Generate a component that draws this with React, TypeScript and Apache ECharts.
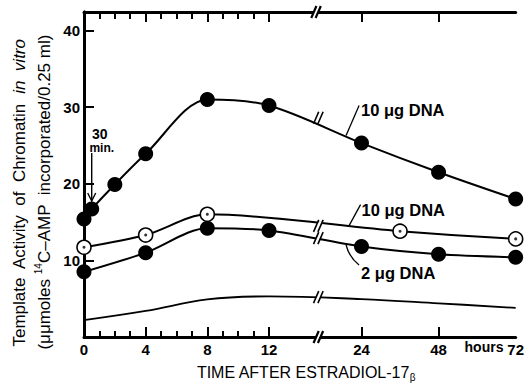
import React, { useEffect, useRef } from "react";
import * as echarts from "echarts";

// ---- data (hours after estradiol, template activity) ----
const HOURS_A = [0, 0.5, 2, 4, 8, 12, 24, 48, 72];
const DNA10_FILLED = [15.4, 16.7, 19.9, 23.9, 31.0, 30.2, 25.3, 21.5, 18.0];
const HOURS_B = [0, 4, 8, 36, 72];
const DNA10_OPEN = [11.7, 13.3, 16.0, 13.8, 12.8];
const HOURS_C = [0, 4, 8, 12, 24, 48, 72];
const DNA2_FILLED = [8.5, 11.0, 14.2, 13.9, 11.8, 10.8, 10.4];
const HOURS_D = [0, 4, 8, 12, 24, 48, 72];
const BASELINE = [2.2, 3.4, 4.9, 5.3, 4.95, 4.4, 3.8];

const TICK_HOURS = [0, 4, 8, 12, 24, 48, 72];
const MAJOR_TICK_HOURS = [4, 8, 12, 24, 48];
const MINOR_TICK_HOURS = [1, 2, 3, 5, 6, 7, 9, 10, 11];
const Y_TICKS = [10, 20, 30, 40];
const Y_MAX = 42.4;
const X_MAX_POS = 28;

// break marks (axis units along the broken time axis)
const BREAK_POS = 15.2;
const BREAK_LINE_VALUES = [28.6, 14.5, 12.9, 5.2];

// broken time axis: linear 0-12 h, then 24-72 h compressed
function hourToPos(h: number) {
  return h <= 12 ? h : 18 + ((h - 24) * 5) / 24;
}

const FF = '"Liberation Sans", Arial, Helvetica, sans-serif';

const pairs = (hs: number[], vs: number[]) => hs.map((h, i) => [hourToPos(h), vs[i]]);

export default function App() {
  const ref = useRef<HTMLDivElement>(null);

  useEffect(() => {
    const chart = echarts.init(ref.current!, null, { renderer: "svg" });

    const baseX = {
      type: "value",
      min: 0,
      max: X_MAX_POS,
      splitLine: { show: false },
      axisLabel: { show: false },
    };

    const breakData = [
      ...BREAK_LINE_VALUES.map((v) => [BREAK_POS, v, 1.6]),
      [BREAK_POS, 0, 2.2],
      [BREAK_POS - 0.15, Y_MAX, 2.2],
    ];

    const option: any = {
      animation: false,
      backgroundColor: "#fff",
      grid: { left: 84, right: 7, top: 12, bottom: 48, containLabel: false },
      xAxis: [
        {
          ...baseX,
          position: "bottom",
          axisLine: { show: true, lineStyle: { color: "#000", width: 3 } },
          axisTick: {
            show: true,
            inside: true,
            length: 10,
            lineStyle: { color: "#000", width: 2 },
            customValues: MAJOR_TICK_HOURS.map(hourToPos),
          },
          axisLabel: {
            show: true,
            margin: 5,
            color: "#000",
            fontFamily: FF,
            fontWeight: "bold",
            fontSize: 15,
            customValues: TICK_HOURS.map(hourToPos),
            formatter: (v: number) => {
              const h = TICK_HOURS.find((t) => Math.abs(hourToPos(t) - v) < 1e-6);
              return h === undefined ? "" : String(h);
            },
          },
        },
        {
          ...baseX,
          position: "bottom",
          axisLine: { show: false },
          axisTick: {
            show: true,
            inside: true,
            length: 6,
            lineStyle: { color: "#000", width: 2 },
            customValues: MINOR_TICK_HOURS.map(hourToPos),
          },
        },
        {
          ...baseX,
          position: "top",
          axisLine: { show: true, lineStyle: { color: "#000", width: 3 } },
          axisTick: {
            show: true,
            inside: true,
            length: 10,
            lineStyle: { color: "#000", width: 2 },
            customValues: MAJOR_TICK_HOURS.map(hourToPos),
          },
        },
        {
          ...baseX,
          position: "top",
          axisLine: { show: false },
          axisTick: {
            show: true,
            inside: true,
            length: 7,
            lineStyle: { color: "#000", width: 2 },
            customValues: MINOR_TICK_HOURS.map(hourToPos),
          },
        },
      ],
      yAxis: [
        {
          type: "value",
          min: 0,
          max: Y_MAX,
          position: "left",
          splitLine: { show: false },
          axisLine: { show: true, lineStyle: { color: "#000", width: 3 } },
          axisTick: {
            show: true,
            inside: true,
            length: 10,
            lineStyle: { color: "#000", width: 2 },
            customValues: Y_TICKS,
          },
          axisLabel: {
            show: true,
            margin: 4,
            color: "#000",
            fontFamily: FF,
            fontWeight: "bold",
            fontSize: 15,
            customValues: Y_TICKS,
          },
        },
        {
          type: "value",
          min: 0,
          max: Y_MAX,
          position: "right",
          splitLine: { show: false },
          axisLine: { show: true, lineStyle: { color: "#000", width: 3 } },
          axisTick: { show: false },
          axisLabel: { show: false },
        },
      ],
      series: [
        {
          type: "line",
          data: pairs(HOURS_A, DNA10_FILLED),
          smooth: 0.3,
          symbol: "circle",
          symbolSize: 15,
          itemStyle: { color: "#000" },
          lineStyle: { color: "#000", width: 2 },
          z: 3,
        },
        {
          type: "line",
          data: pairs(HOURS_B, DNA10_OPEN),
          smooth: 0.3,
          symbol: "circle",
          symbolSize: 14,
          itemStyle: { color: "#fff", borderColor: "#000", borderWidth: 1.6 },
          lineStyle: { color: "#000", width: 2 },
          z: 4,
        },
        {
          type: "scatter",
          data: pairs(HOURS_B, DNA10_OPEN),
          symbol: "circle",
          symbolSize: 3,
          itemStyle: { color: "#000" },
          z: 6,
        },
        {
          type: "line",
          data: pairs(HOURS_C, DNA2_FILLED),
          smooth: 0.3,
          symbol: "circle",
          symbolSize: 15,
          itemStyle: { color: "#000" },
          lineStyle: { color: "#000", width: 2 },
          z: 3,
        },
        {
          type: "line",
          data: pairs(HOURS_D, BASELINE),
          smooth: 0.4,
          symbol: "none",
          lineStyle: { color: "#000", width: 1.8 },
          z: 2,
        },
        {
          type: "custom",
          data: breakData,
          clip: false,
          z: 10,
          silent: true,
          renderItem: (_p: any, api: any) => {
            const [x, y] = api.coord([api.value(0), api.value(1)]);
            const w = api.value(2);
            const hh = 6;
            const sl = 2.6;
            const d = 2.2;
            return {
              type: "group",
              children: [
                {
                  type: "polygon",
                  shape: {
                    points: [
                      [x - d - sl, y + hh - 2],
                      [x - d + sl, y - hh + 2],
                      [x + d + sl, y - hh + 2],
                      [x + d - sl, y + hh - 2],
                    ],
                  },
                  style: { fill: "#fff" },
                },
                {
                  type: "line",
                  shape: { x1: x - d - sl, y1: y + hh, x2: x - d + sl, y2: y - hh },
                  style: { stroke: "#000", lineWidth: w },
                },
                {
                  type: "line",
                  shape: { x1: x + d - sl, y1: y + hh, x2: x + d + sl, y2: y - hh },
                  style: { stroke: "#000", lineWidth: w },
                },
              ],
            };
          },
        },
      ],
    };

    chart.setOption(option);

    const px = (pos: number, v: number) =>
      chart.convertToPixel({ xAxisIndex: 0, yAxisIndex: 0 }, [pos, v]) as number[];

    const a = px(17.0, 26.3);
    const b = px(17.16, 14.4);
    const c = px(17.0, 12.0);
    const m = px(hourToPos(0.5), DNA10_FILLED[1]);

    const labelStyle = {
      fill: "#000",
      font: `bold 16.5px ${FF}`,
      align: "left",
      verticalAlign: "middle",
    };

    const graphic: any[] = [
      // leader A
      { type: "line", shape: { x1: a[0], y1: a[1], x2: a[0] + 13, y2: a[1] - 30 }, style: { stroke: "#000", lineWidth: 1.3 } },
      { type: "text", x: a[0] + 15, y: a[1] - 25, style: { ...labelStyle, text: "10 μg DNA" } },
      // leader B
      { type: "line", shape: { x1: b[0], y1: b[1], x2: b[0] + 12, y2: b[1] - 22 }, style: { stroke: "#000", lineWidth: 1.3 } },
      { type: "text", x: b[0] + 13, y: b[1] - 17, style: { ...labelStyle, text: "10 μg DNA" } },
      // leader C
      {
        type: "bezierCurve",
        shape: { x1: c[0], y1: c[1], cpx1: c[0] + 3, cpy1: c[1] + 12, x2: c[0] + 13, y2: c[1] + 20 },
        style: { stroke: "#000", lineWidth: 1.3, fill: null },
      },
      { type: "text", x: c[0] + 15, y: c[1] + 28, style: { ...labelStyle, text: "2 μg DNA" } },
      // 30 min arrow
      { type: "text", x: m[0] + 8, y: m[1] - 75, style: { fill: "#000", font: `bold 14px ${FF}`, text: "30", align: "center", verticalAlign: "middle" } },
      { type: "text", x: m[0] + 10, y: m[1] - 61, style: { fill: "#000", font: `bold 12px ${FF}`, text: "min.", align: "center", verticalAlign: "middle" } },
      { type: "line", shape: { x1: m[0], y1: m[1] - 56, x2: m[0], y2: m[1] - 8 }, style: { stroke: "#000", lineWidth: 1.4 } },
      {
        type: "polyline",
        shape: { points: [[m[0] - 4, m[1] - 16], [m[0], m[1] - 8], [m[0] + 4, m[1] - 16]] },
        style: { stroke: "#000", lineWidth: 1.4, fill: null },
      },
      // "hours" unit
      { type: "text", x: 484, y: 347, style: { fill: "#000", font: `bold 14px ${FF}`, text: "hours", align: "center", verticalAlign: "middle" } },
      // x title
      {
        type: "text",
        x: 306,
        y: 372,
        style: {
          text: "{m|TIME AFTER ESTRADIOL-17}{s|β}",
          align: "center",
          verticalAlign: "middle",
          fill: "#000",
          rich: {
            m: { fontFamily: FF, fontSize: 16, fill: "#000", lineHeight: 20, verticalAlign: "middle" },
            s: { fontFamily: FF, fontSize: 10, fill: "#000", lineHeight: 20, verticalAlign: "bottom", padding: [8, 0, 0, 0] },
          },
        },
      },
      // y title line 1
      {
        type: "text",
        x: 19,
        y: 193,
        rotation: Math.PI / 2,
        style: {
          text: "{n|Template  Activity  of  Chromatin  }{i|in  vitro}",
          align: "center",
          verticalAlign: "middle",
          fill: "#000",
          rich: {
            n: { fontFamily: FF, fontSize: 17, fill: "#000" },
            i: { fontFamily: FF, fontSize: 17, fontStyle: "italic", fill: "#000" },
          },
        },
      },
      // y title line 2
      {
        type: "text",
        x: 43,
        y: 192,
        rotation: Math.PI / 2,
        style: {
          text: "{n|(μμmoles }{s|14}{n|C–AMP  incorporated/0.25 ml)}",
          align: "center",
          verticalAlign: "middle",
          fill: "#000",
          rich: {
            n: { fontFamily: FF, fontSize: 17, fill: "#000", lineHeight: 19, verticalAlign: "bottom" },
            s: { fontFamily: FF, fontSize: 10, fill: "#000", lineHeight: 19, verticalAlign: "top" },
          },
        },
      },
    ];

    chart.setOption({ graphic });

    return () => chart.dispose();
  }, []);

  return (
    <div
      ref={ref}
      style={{ position: "absolute", left: 0, top: 0, width: 527, height: 385, background: "#fff" }}
    />
  );
}
